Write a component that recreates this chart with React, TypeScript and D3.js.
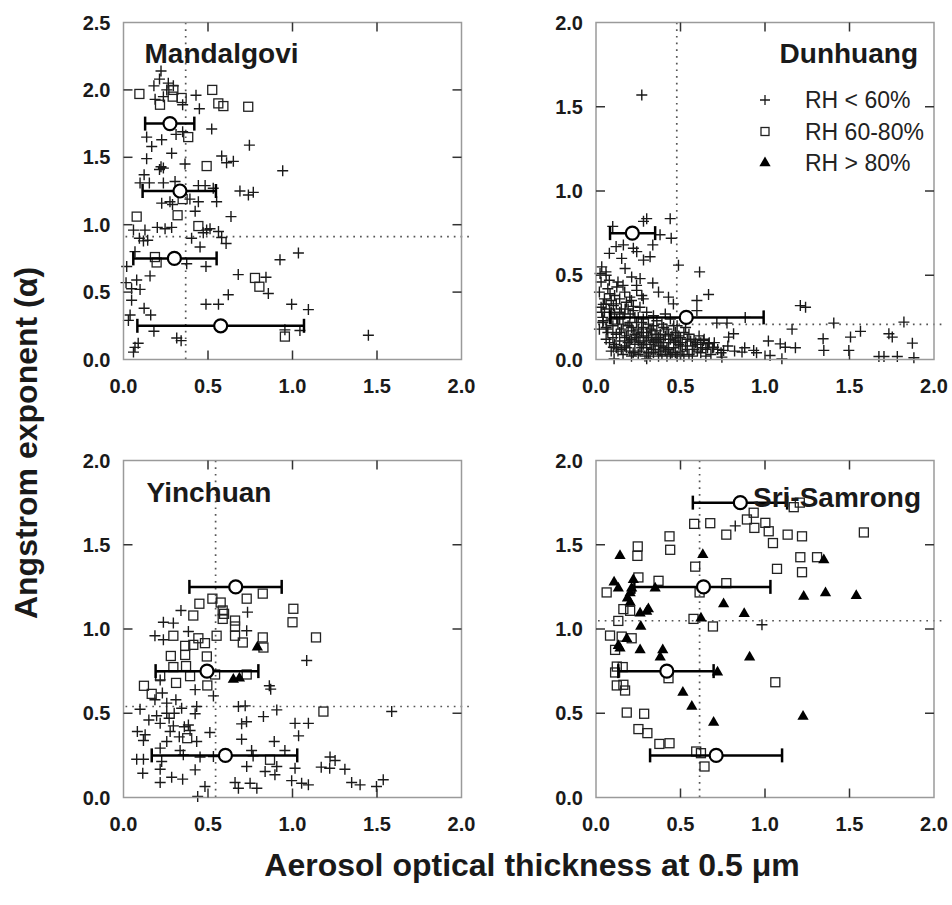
import React from "react";
import * as d3 from "d3";

type P = [number, number];
type Mean = { x: number; lo: number; hi: number; y: number };

// ---------- Mandalgovi ----------
const mandCross: P[] = [
  [0.222, 2.14], [0.213, 2.08], [0.18, 2.03], [0.265, 2.05], [0.295, 2.03], [0.256, 2.0], [0.187, 1.93], [0.236, 1.95],
  [0.35, 1.89], [0.429, 1.96], [0.449, 1.86], [0.522, 1.71], [0.137, 1.65], [0.226, 1.63], [0.311, 1.67], [0.35, 1.69],
  [0.167, 1.58], [0.745, 1.59], [0.285, 1.53], [0.137, 1.49], [0.364, 1.45], [0.222, 1.43], [0.213, 1.41], [0.236, 1.42],
  [0.122, 1.37], [0.581, 1.51], [0.65, 1.47], [0.61, 1.46], [0.942, 1.4], [0.098, 1.31], [0.153, 1.31], [0.236, 1.31],
  [0.305, 1.32], [0.443, 1.29], [0.483, 1.29], [0.531, 1.27], [0.689, 1.25], [0.739, 1.22], [0.768, 1.24], [0.226, 1.16],
  [0.275, 1.17], [0.393, 1.19], [0.443, 1.17], [0.551, 1.17], [0.29, 1.15], [0.424, 1.1], [0.636, 1.06], [0.059, 0.96],
  [0.127, 0.96], [0.2, 0.98], [0.246, 0.97], [0.285, 0.98], [0.492, 0.96], [0.512, 0.97], [0.562, 0.95], [0.094, 0.9],
  [0.118, 0.88], [0.143, 0.885], [0.403, 0.9], [0.472, 0.94], [0.581, 0.905], [0.607, 0.86], [0.453, 0.835], [0.068, 0.8],
  [0.926, 0.74], [1.035, 0.79], [0.374, 0.71], [0.488, 0.69], [0.019, 0.69], [0.157, 0.62], [0.679, 0.63], [0.843, 0.61],
  [0.078, 0.59], [0.015, 0.57], [0.048, 0.525], [0.098, 0.52], [0.857, 0.49], [0.62, 0.48], [0.048, 0.44], [0.488, 0.41],
  [0.562, 0.41], [0.995, 0.41], [1.094, 0.37], [0.122, 0.38], [0.161, 0.33], [0.039, 0.33], [0.029, 0.29], [0.18, 0.21],
  [0.955, 0.22], [1.044, 0.215], [1.449, 0.18], [0.315, 0.16], [0.341, 0.14], [0.087, 0.12], [0.068, 0.09], [0.059, 0.055],
];
const mandSquare: P[] = [
  [0.094, 1.97], [0.295, 2.0], [0.291, 1.95], [0.344, 1.94], [0.525, 2.0], [0.561, 1.9], [0.591, 1.88], [0.738, 1.875],
  [0.216, 1.89], [0.383, 1.65], [0.492, 1.435], [0.35, 1.19], [0.32, 1.07], [0.078, 1.06], [0.443, 0.99], [0.186, 0.76],
  [0.196, 0.72], [0.778, 0.605], [0.804, 0.54], [0.955, 0.17],
];
const mandMeans: Mean[] = [
  { x: 0.275, lo: 0.128, hi: 0.419, y: 1.75 },
  { x: 0.334, lo: 0.113, hi: 0.547, y: 1.25 },
  { x: 0.301, lo: 0.058, hi: 0.551, y: 0.75 },
  { x: 0.575, lo: 0.082, hi: 1.068, y: 0.25 },
];
const mandRef: P = [0.368, 0.912];

// ---------- Dunhuang ----------
const dunCross: P[] = [
  [0.271, 1.57], [0.3, 0.836], [0.281, 0.82], [0.439, 0.836], [0.445, 0.72], [0.099, 0.79], [0.379, 0.74], [0.119, 0.67],
  [0.162, 0.68], [0.336, 0.68], [0.079, 0.63], [0.152, 0.6], [0.241, 0.64], [0.32, 0.61], [0.281, 0.59], [0.221, 0.66],
  [0.034, 0.55], [0.059, 0.52], [0.024, 0.51], [0.172, 0.54], [0.211, 0.49], [0.261, 0.48], [0.336, 0.454], [0.079, 0.47],
  [0.123, 0.43], [0.488, 0.56], [0.613, 0.52], [0.083, 0.39], [0.241, 0.41], [0.271, 0.38], [0.37, 0.4], [0.429, 0.37],
  [0.666, 0.386], [0.597, 0.35], [0.043, 0.327], [0.103, 0.32], [0.172, 0.3], [0.221, 0.315], [0.458, 0.33], [0.597, 0.29],
  [1.209, 0.32], [1.24, 0.31], [0.034, 0.28], [0.043, 0.23], [0.063, 0.18], [0.123, 0.24], [0.202, 0.27], [0.715, 0.216],
  [0.775, 0.216], [0.883, 0.25], [1.407, 0.216], [1.822, 0.222], [1.16, 0.18], [1.565, 0.167], [1.506, 0.133], [1.733, 0.153],
  [1.753, 0.133], [1.344, 0.123], [1.872, 0.097], [1.348, 0.054], [1.496, 0.054], [1.18, 0.07], [1.674, 0.018], [1.704, 0.018],
  [1.783, 0.018], [1.881, 0.01], [1.1, 0.004], [1.03, 0.024], [1.09, 0.093], [1.12, 0.073], [1.02, 0.11], [0.933, 0.054],
  [0.864, 0.044], [0.785, 0.133], [0.814, 0.153], [0.745, 0.014], [0.755, 0.054], [0.696, 0.073], [0.666, 0.093], [0.636, 0.113],
  [0.107, 0.004], [0.3, 0.004], [0.103, 0.073],
  [0.03, 0.31], [0.05, 0.28], [0.04, 0.22], [0.06, 0.19], [0.08, 0.3], [0.09, 0.24], [0.07, 0.16], [0.1, 0.2],
  [0.11, 0.27], [0.12, 0.15], [0.13, 0.21], [0.14, 0.11], [0.15, 0.18], [0.16, 0.25], [0.17, 0.08], [0.18, 0.14],
  [0.19, 0.2], [0.2, 0.05], [0.21, 0.12], [0.22, 0.17], [0.23, 0.09], [0.24, 0.22], [0.25, 0.03], [0.26, 0.14],
  [0.27, 0.07], [0.28, 0.19], [0.29, 0.11], [0.3, 0.16], [0.31, 0.04], [0.32, 0.09], [0.33, 0.13], [0.34, 0.2],
  [0.35, 0.06], [0.36, 0.11], [0.37, 0.02], [0.38, 0.15], [0.39, 0.08], [0.4, 0.12], [0.41, 0.05], [0.42, 0.18],
  [0.43, 0.1], [0.44, 0.03], [0.45, 0.14], [0.46, 0.07], [0.47, 0.11], [0.48, 0.02], [0.49, 0.09], [0.5, 0.13],
  [0.51, 0.05], [0.52, 0.16], [0.53, 0.08], [0.55, 0.03], [0.56, 0.11], [0.58, 0.06], [0.6, 0.09], [0.62, 0.04],
  [0.64, 0.12], [0.66, 0.07], [0.68, 0.03], [0.7, 0.1], [0.13, 0.05], [0.16, 0.03], [0.19, 0.1], [0.22, 0.04],
  [0.24, 0.13], [0.27, 0.16], [0.29, 0.02], [0.31, 0.21], [0.33, 0.06], [0.36, 0.17], [0.38, 0.05], [0.4, 0.19],
  [0.42, 0.07], [0.45, 0.04], [0.47, 0.16], [0.5, 0.08], [0.54, 0.12], [0.57, 0.02], [0.61, 0.14], [0.65, 0.02],
  [0.11, 0.09], [0.14, 0.24], [0.17, 0.13], [0.2, 0.22], [0.23, 0.15], [0.26, 0.1], [0.28, 0.24], [0.32, 0.18],
  [0.35, 0.12], [0.39, 0.21], [0.43, 0.15], [0.46, 0.2], [0.49, 0.14], [0.53, 0.19], [0.59, 0.1], [0.63, 0.07],
  [0.67, 0.1], [0.72, 0.06], [0.1, 0.13], [0.08, 0.1], [0.05, 0.36], [0.07, 0.42], [0.09, 0.35], [0.12, 0.33],
  [0.15, 0.3], [0.18, 0.34], [0.22, 0.29], [0.26, 0.31], [0.3, 0.28], [0.34, 0.26], [0.2, 0.37], [0.24, 0.44],
  [0.28, 0.36], [0.17, 0.4], [0.13, 0.46], [0.25, 0.25], [0.36, 0.23], [0.41, 0.27], [0.44, 0.24], [0.48, 0.2],
  [0.02, 0.4], [0.03, 0.46], [0.06, 0.5], [0.04, 0.25], [0.02, 0.18], [0.06, 0.33], [0.09, 0.28], [0.11, 0.38],
  [0.14, 0.36], [0.16, 0.44], [0.12, 0.07], [0.14, 0.16], [0.15, 0.06], [0.16, 0.21], [0.18, 0.07], [0.19, 0.17],
  [0.2, 0.11], [0.21, 0.02], [0.21, 0.19], [0.23, 0.05], [0.23, 0.25], [0.25, 0.11], [0.25, 0.18], [0.26, 0.05],
  [0.27, 0.22], [0.28, 0.09], [0.28, 0.13], [0.3, 0.07], [0.3, 0.11], [0.31, 0.14], [0.32, 0.02], [0.33, 0.17],
  [0.34, 0.04], [0.34, 0.1], [0.35, 0.15], [0.37, 0.08], [0.37, 0.13], [0.38, 0.1], [0.39, 0.03], [0.4, 0.07],
  [0.41, 0.14], [0.42, 0.02], [0.43, 0.06], [0.44, 0.12], [0.46, 0.1], [0.47, 0.04], [0.48, 0.13], [0.5, 0.03],
  [0.51, 0.1], [0.52, 0.02], [0.54, 0.06], [0.55, 0.15], [0.57, 0.08], [0.58, 0.12], [0.6, 0.05], [0.62, 0.1],
  [0.65, 0.06], [0.69, 0.07], [0.74, 0.04], [0.78, 0.08], [0.82, 0.05], [0.88, 0.07], [0.95, 0.04], [0.17, 0.27],
  [0.19, 0.3], [0.21, 0.35], [0.14, 0.28], [0.1, 0.16], [0.06, 0.12], [0.09, 0.05],
];
const dunMeans: Mean[] = [
  { x: 0.215, lo: 0.083, hi: 0.35, y: 0.75 },
  { x: 0.534, lo: 0.083, hi: 0.992, y: 0.25 },
];
const dunRef: P = [0.478, 0.208];

// ---------- Yinchuan ----------
const yinCross: P[] = [
  [0.34, 1.11], [0.734, 1.1], [0.236, 1.04], [0.295, 1.035], [0.384, 0.985], [0.729, 0.99], [0.186, 0.96], [0.236, 0.936],
  [1.084, 0.813], [0.863, 0.663], [0.871, 0.643], [0.217, 0.698], [0.424, 0.64], [0.532, 0.603], [0.186, 0.58], [0.256, 0.56],
  [0.098, 0.524], [0.344, 0.53], [0.433, 0.54], [0.68, 0.54], [0.72, 0.544], [0.907, 0.52], [1.587, 0.51], [0.196, 0.485],
  [0.256, 0.5], [0.424, 0.497], [0.828, 0.48], [0.217, 0.44], [0.295, 0.425], [0.384, 0.43], [0.699, 0.437], [0.728, 0.45],
  [1.015, 0.44], [1.094, 0.44], [0.082, 0.392], [0.128, 0.372], [0.276, 0.392], [0.394, 0.398], [0.511, 0.386], [0.118, 0.338],
  [0.256, 0.332], [0.433, 0.332], [0.699, 0.346], [0.892, 0.332], [1.036, 0.366], [0.217, 0.293], [0.335, 0.279], [0.758, 0.279],
  [0.955, 0.279], [0.078, 0.227], [0.118, 0.227], [0.354, 0.253], [0.453, 0.24], [0.532, 0.243], [0.767, 0.247], [1.222, 0.24],
  [1.252, 0.22], [0.226, 0.214], [1.015, 0.174], [1.17, 0.18], [1.22, 0.174], [1.31, 0.168], [0.217, 0.168], [0.424, 0.164],
  [0.729, 0.184], [0.907, 0.184], [0.114, 0.144], [0.838, 0.154], [0.896, 0.135], [0.285, 0.12], [0.35, 0.109], [0.217, 0.089],
  [0.66, 0.089], [0.749, 0.085], [0.995, 0.1], [1.054, 0.085], [1.094, 0.075], [1.35, 0.089], [1.4, 0.075], [1.537, 0.105],
  [1.497, 0.065], [0.482, 0.065], [0.68, 0.055], [0.789, 0.055], [0.439, 0.006], [0.3, 0.5], [0.27, 0.47], [0.33, 0.36],
  [0.36, 0.42], [0.15, 0.46], [0.23, 0.62], [0.31, 0.58],
];
const yinSquare: P[] = [
  [0.449, 1.15], [0.526, 1.18], [0.575, 1.157], [0.413, 1.08], [0.587, 1.11], [0.595, 1.09], [0.587, 1.06], [0.66, 1.05],
  [0.66, 1.015], [0.729, 1.18], [0.824, 1.21], [1.005, 1.12], [1.0, 1.04], [1.139, 0.95], [0.295, 0.96], [0.443, 0.945],
  [0.551, 0.96], [0.482, 0.916], [0.66, 0.96], [0.706, 0.92], [0.824, 0.95], [0.828, 0.89], [0.365, 0.9], [0.413, 0.906],
  [0.28, 0.84], [0.365, 0.846], [0.493, 0.837], [0.295, 0.774], [0.37, 0.78], [0.394, 0.72], [0.542, 0.73], [0.729, 0.73],
  [0.217, 0.72], [0.121, 0.663], [0.167, 0.615], [0.311, 0.68], [0.496, 0.665], [1.183, 0.51], [0.377, 0.352], [0.867, 0.224],
];
const yinTri: P[] = [[0.792, 0.892], [0.65, 0.7], [0.686, 0.708]];
const yinMeans: Mean[] = [
  { x: 0.664, lo: 0.39, hi: 0.936, y: 1.25 },
  { x: 0.494, lo: 0.19, hi: 0.798, y: 0.75 },
  { x: 0.603, lo: 0.167, hi: 1.028, y: 0.25 },
];
const yinRef: P = [0.545, 0.54];

// ---------- Sri-Samrong ----------
const sriCross: P[] = [[0.824, 1.612], [0.982, 1.025]];
const sriSquare: P[] = [
  [1.17, 1.723], [1.206, 1.75], [0.933, 1.69], [0.893, 1.65], [0.937, 1.6], [1.002, 1.63], [1.022, 1.58], [1.047, 1.51],
  [0.581, 1.624], [0.676, 1.628], [0.771, 1.56], [1.134, 1.56], [1.219, 1.55], [1.585, 1.573], [0.435, 1.55], [0.439, 1.47],
  [0.247, 1.49], [0.245, 1.434], [1.209, 1.426], [1.308, 1.426], [1.071, 1.357], [1.219, 1.337], [0.587, 1.37], [0.251, 1.306],
  [0.37, 1.286], [0.771, 1.272], [0.613, 1.217], [0.063, 1.217], [0.162, 1.118], [0.202, 1.108], [0.577, 1.06], [0.692, 1.015],
  [0.132, 1.048], [0.083, 0.961], [0.152, 0.955], [0.211, 0.945], [0.113, 0.876], [0.123, 0.777], [0.113, 0.742], [0.158, 0.774],
  [0.429, 0.708], [0.123, 0.665], [0.162, 0.669], [0.172, 0.635], [1.061, 0.684], [0.182, 0.504], [0.285, 0.497], [0.251, 0.406],
  [0.304, 0.382], [0.375, 0.318], [0.435, 0.322], [0.593, 0.273], [0.621, 0.263], [0.642, 0.184],
];
const sriTri: P[] = [
  [0.142, 1.434], [0.632, 1.44], [1.348, 1.41], [0.107, 1.278], [0.132, 1.242], [0.221, 1.292], [0.211, 1.242], [0.202, 1.213],
  [0.35, 1.242], [0.186, 1.183], [0.202, 1.157], [0.31, 1.118], [0.3, 1.104], [0.261, 1.094], [0.755, 1.149], [0.877, 1.09],
  [1.229, 1.193], [1.358, 1.213], [1.54, 1.197], [0.621, 1.064], [0.265, 1.015], [0.182, 0.942], [0.132, 0.9], [0.142, 0.886],
  [0.261, 0.876], [0.395, 0.876], [0.38, 0.833], [0.909, 0.833], [0.719, 0.744], [0.514, 0.623], [0.567, 0.54], [0.696, 0.445],
  [1.225, 0.48],
];
const sriMeans: Mean[] = [
  { x: 0.854, lo: 0.573, hi: 1.131, y: 1.75 },
  { x: 0.636, lo: 0.227, hi: 1.032, y: 1.25 },
  { x: 0.419, lo: 0.132, hi: 0.696, y: 0.75 },
  { x: 0.711, lo: 0.32, hi: 1.101, y: 0.25 },
];
const sriRef: P = [0.613, 1.049];

const xTicks = [0, 0.5, 1.0, 1.5, 2.0];
const yTicks25 = [0, 0.5, 1.0, 1.5, 2.0, 2.5];
const yTicks20 = [0, 0.5, 1.0, 1.5, 2.0];
const legendLabels = ["RH < 60%", "RH 60-80%", "RH > 80%"];
const xTitle = "Aerosol optical thickness at 0.5 \u03bcm";
const yTitle = "Angstrom exponent (\u03b1)";

type Panel = {
  name: string; left: number; top: number; ymax: number; yTicks: number[];
  cross: P[]; square: P[]; tri: P[]; means: Mean[]; ref: P;
  titleX: number; titleY: number; anchor: "start" | "end"; legend?: boolean;
};

const W = 338, H = 337;
const panels: Panel[] = [
  { name: "Mandalgovi", left: 123.5, top: 22.5, ymax: 2.5, yTicks: yTicks25, cross: mandCross, square: mandSquare, tri: [], means: mandMeans, ref: mandRef, titleX: 21, titleY: 40, anchor: "start" },
  { name: "Dunhuang", left: 596, top: 22.5, ymax: 2.0, yTicks: yTicks20, cross: dunCross, square: [], tri: [], means: dunMeans, ref: dunRef, titleX: 322, titleY: 40, anchor: "end", legend: true },
  { name: "Yinchuan", left: 123.5, top: 460.5, ymax: 2.0, yTicks: yTicks20, cross: yinCross, square: yinSquare, tri: yinTri, means: yinMeans, ref: yinRef, titleX: 23, titleY: 41, anchor: "start" },
  { name: "Sri-Samrong", left: 596, top: 460.5, ymax: 2.0, yTicks: yTicks20, cross: sriCross, square: sriSquare, tri: sriTri, means: sriMeans, ref: sriRef, titleX: 157, titleY: 46, anchor: "start" },
];

const INK = "#1a1a1a";
const FONT = "Arial, 'Liberation Sans', Helvetica, sans-serif";
const triPath = d3.symbol().type(d3.symbolTriangle).size(55)() as string;

function crossPath(x: number, y: number, r = 5.5) {
  return `M${x - r},${y}H${x + r}M${x},${y - r}V${y + r}`;
}

function PanelView({ p }: { p: Panel }) {
  const x = d3.scaleLinear().domain([0, 2]).range([0, W]);
  const y = d3.scaleLinear().domain([0, p.ymax]).range([H, 0]);
  const fmt = d3.format(".1f");
  const tickLen = 9;
  return (
    <g transform={`translate(${p.left},${p.top})`}>
      {/* reference dotted lines */}
      <line x1={x(p.ref[0])} x2={x(p.ref[0])} y1={0} y2={H} stroke="#555" strokeWidth={1.7} strokeDasharray="1.7 5" />
      <line x1={2} x2={W + 10} y1={y(p.ref[1])} y2={y(p.ref[1])} stroke="#555" strokeWidth={1.7} strokeDasharray="1.7 5" />
      {/* points */}
      <path
        d={p.cross.map(([a, b]) => crossPath(x(a), y(b))).join("")}
        stroke={INK} strokeWidth={1.4} fill="none"
      />
      {p.square.map(([a, b], i) => (
        <rect key={"s" + i} x={x(a) - 4.5} y={y(b) - 4.5} width={9} height={9} fill="none" stroke="#222" strokeWidth={1.3} />
      ))}
      {p.tri.map(([a, b], i) => (
        <path key={"t" + i} d={triPath} transform={`translate(${x(a)},${y(b)})`} fill="#000" />
      ))}
      {/* frame */}
      <rect x={0} y={0} width={W} height={H} fill="none" stroke="#9a9a9a" strokeWidth={1.5} />
      {/* ticks */}
      {xTicks.slice(1, -1).map((t) => (
        <g key={"xt" + t}>
          <line x1={x(t)} x2={x(t)} y1={0} y2={tickLen} stroke="#333" strokeWidth={1.5} />
          <line x1={x(t)} x2={x(t)} y1={H} y2={H - tickLen} stroke="#333" strokeWidth={1.5} />
        </g>
      ))}
      {p.yTicks.slice(1, -1).map((t) => (
        <g key={"yt" + t}>
          <line x1={0} x2={tickLen} y1={y(t)} y2={y(t)} stroke="#333" strokeWidth={1.5} />
          <line x1={W} x2={W - tickLen} y1={y(t)} y2={y(t)} stroke="#333" strokeWidth={1.5} />
        </g>
      ))}
      {/* tick labels */}
      {xTicks.map((t) => (
        <text key={"xl" + t} x={x(t)} y={H + 33} textAnchor="middle" fontFamily={FONT} fontWeight="bold" fontSize={20} fill={INK}>
          {fmt(t)}
        </text>
      ))}
      {p.yTicks.map((t) => (
        <text key={"yl" + t} x={-13} y={y(t) + 7} textAnchor="end" fontFamily={FONT} fontWeight="bold" fontSize={20} fill={INK}>
          {fmt(t)}
        </text>
      ))}
      {/* means with error bars */}
      {p.means.map((m, i) => (
        <g key={"m" + i}>
          <line x1={x(m.lo)} x2={x(m.hi)} y1={y(m.y)} y2={y(m.y)} stroke="#000" strokeWidth={2.5} />
          <line x1={x(m.lo)} x2={x(m.lo)} y1={y(m.y) - 7} y2={y(m.y) + 7} stroke="#000" strokeWidth={2.5} />
          <line x1={x(m.hi)} x2={x(m.hi)} y1={y(m.y) - 7} y2={y(m.y) + 7} stroke="#000" strokeWidth={2.5} />
          <circle cx={x(m.x)} cy={y(m.y)} r={6.5} fill="#fff" stroke="#000" strokeWidth={2.2} />
        </g>
      ))}
      {/* title */}
      <text x={p.titleX} y={p.titleY} textAnchor={p.anchor} fontFamily={FONT} fontWeight="bold" fontSize={28} fill={INK}>
        {p.name}
      </text>
      {p.legend && (
        <g>
          {legendLabels.map((lab, i) => {
            const ly = 77.5 + i * 31.5;
            const lx = 169;
            return (
              <g key={lab}>
                {i === 0 && <path d={crossPath(lx, ly, 5)} stroke={INK} strokeWidth={1.3} />}
                {i === 1 && <rect x={lx - 4} y={ly - 4} width={8} height={8} fill="none" stroke="#222" strokeWidth={1.3} />}
                {i === 2 && <path d={triPath} transform={`translate(${lx},${ly})`} fill="#000" />}
                <text x={209} y={ly + 8} fontFamily={FONT} fontSize={23} fill="#222">{lab}</text>
              </g>
            );
          })}
        </g>
      )}
    </g>
  );
}

export default function App() {
  return (
    <svg width={952} height={905} style={{ position: "absolute", left: 0, top: 0, background: "#fff" }}>
      <rect x={0} y={0} width={952} height={905} fill="#fff" />
      {panels.map((p) => (
        <PanelView key={p.name} p={p} />
      ))}
      <text
        transform={`translate(37,443) rotate(-90)`}
        textAnchor="middle" fontFamily={FONT} fontWeight="bold" fontSize={32} fill={INK}
      >
        {yTitle}
      </text>
      <text x={532} y={876} textAnchor="middle" fontFamily={FONT} fontWeight="bold" fontSize={32} fill={INK}>
        {xTitle}
      </text>
    </svg>
  );
}
